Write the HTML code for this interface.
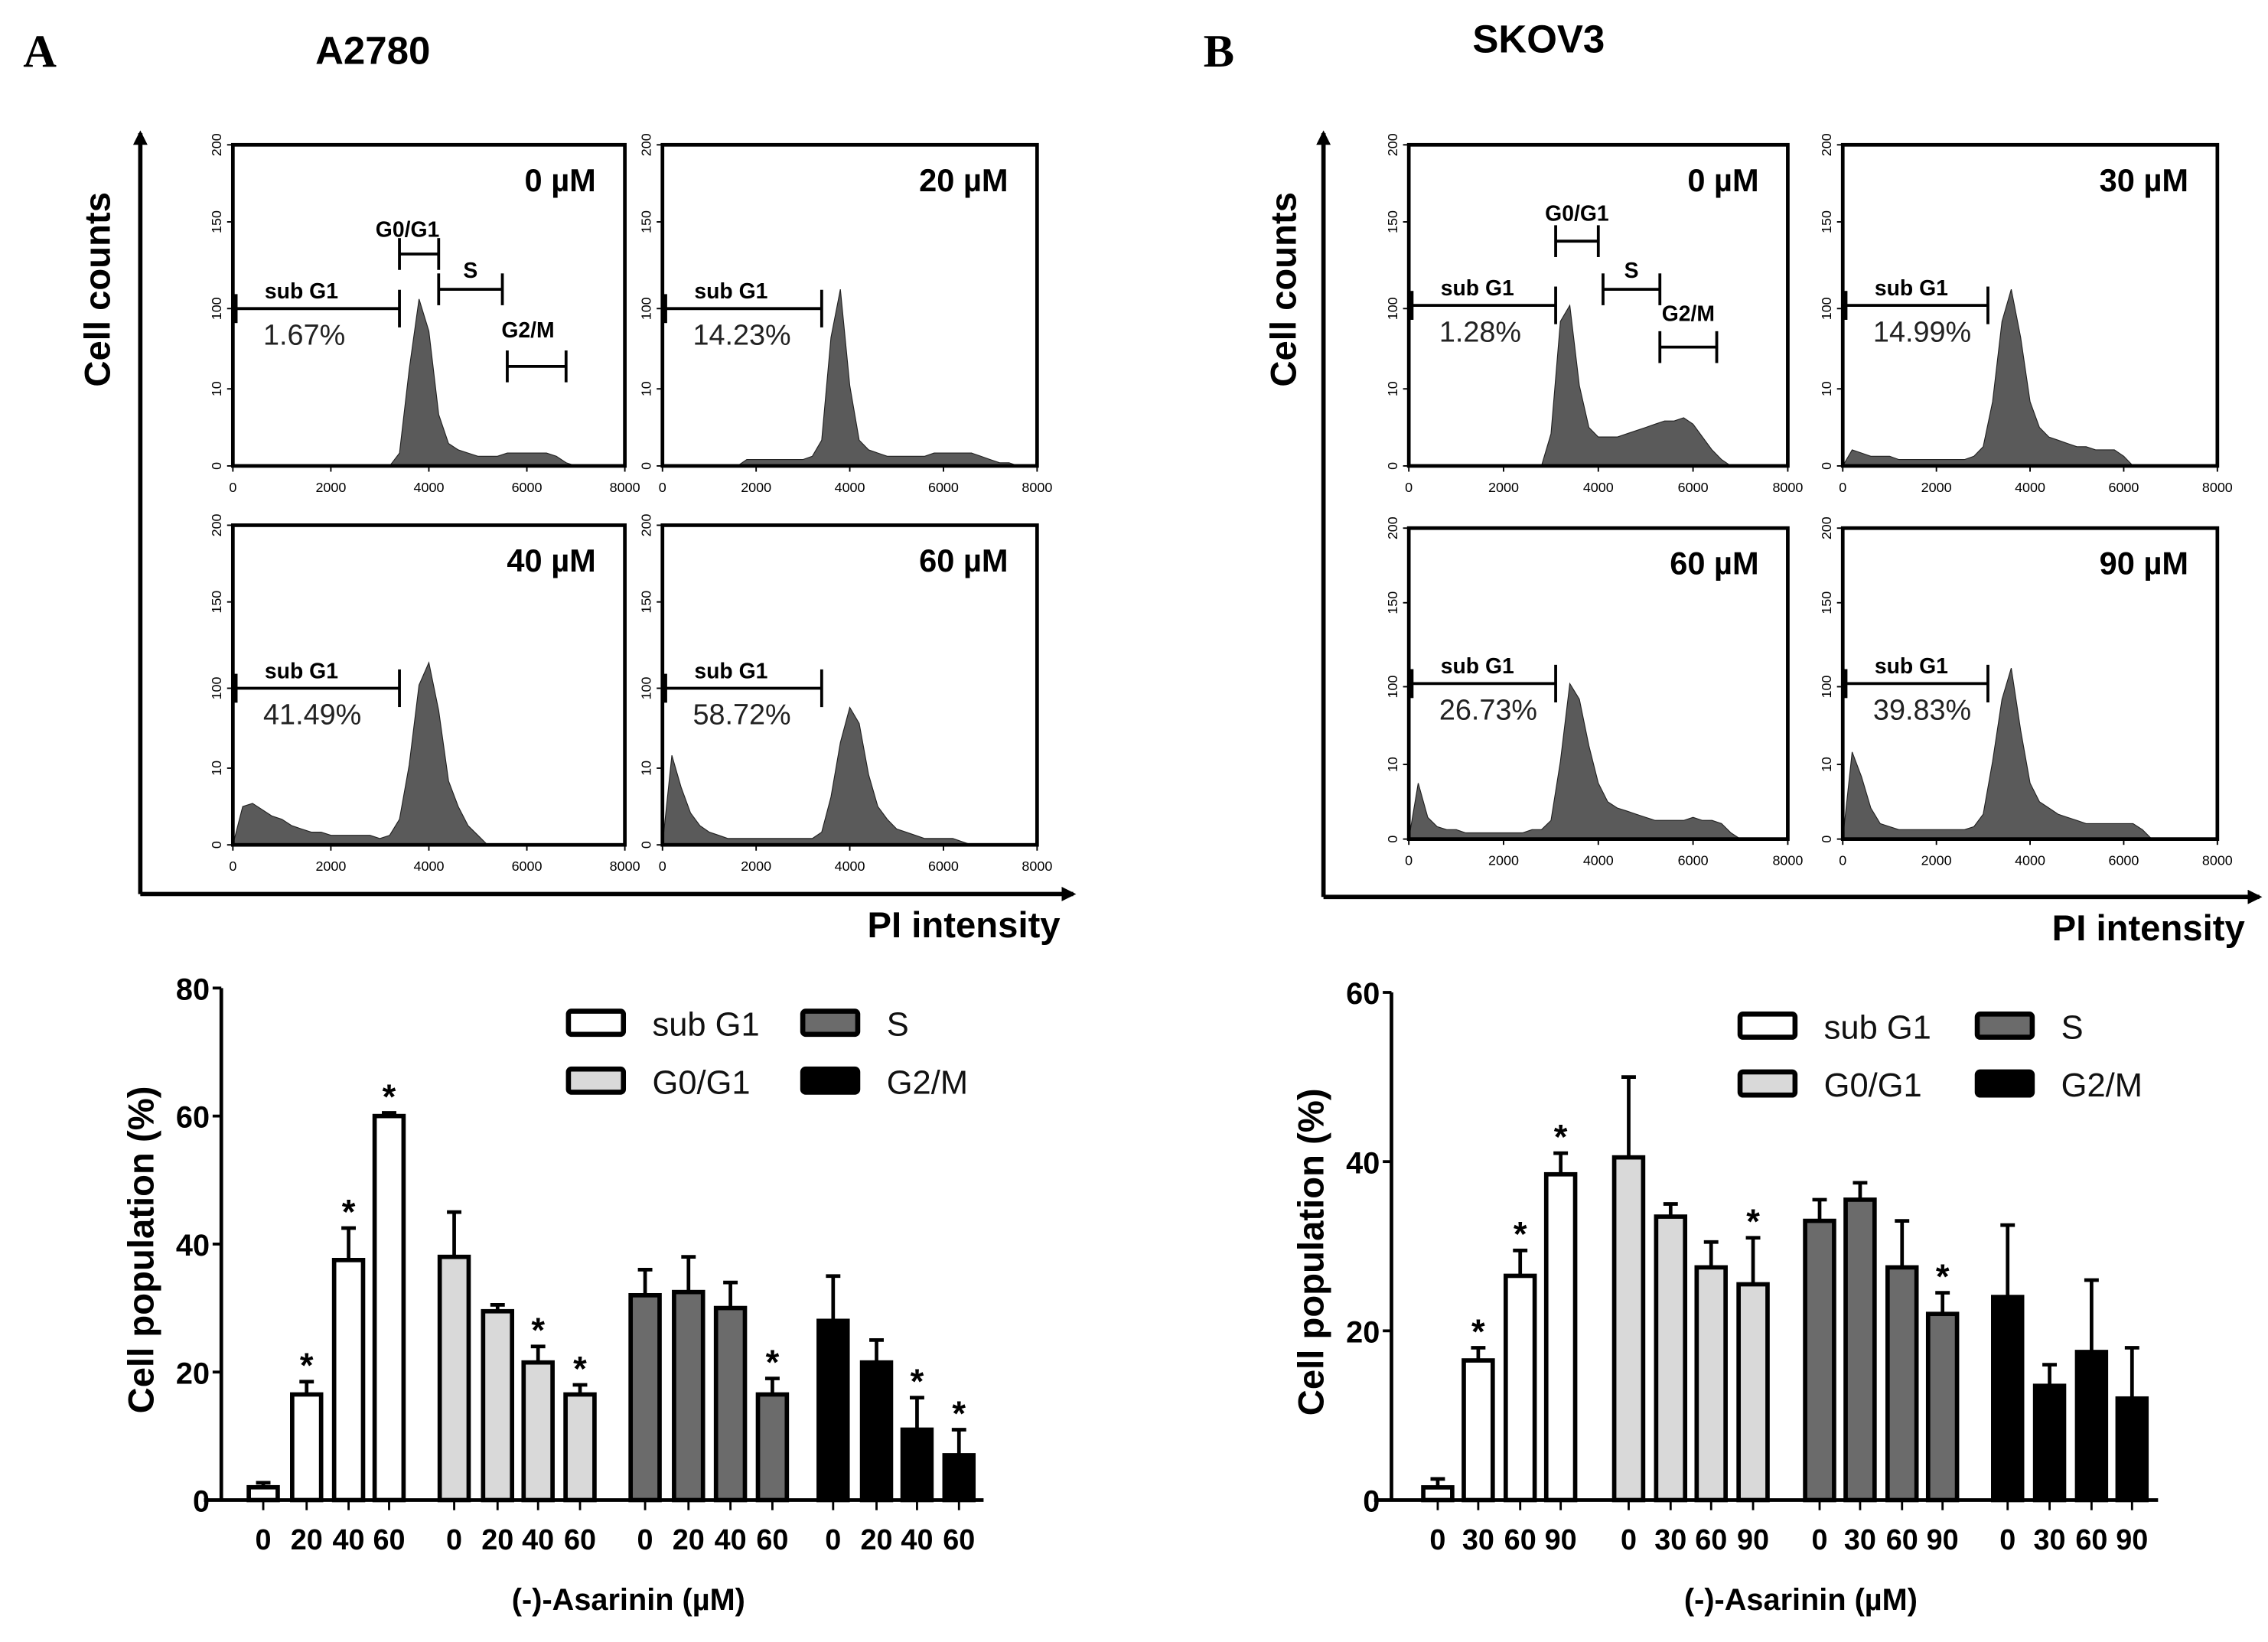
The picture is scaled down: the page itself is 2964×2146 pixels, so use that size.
<!DOCTYPE html>
<html><head><meta charset="utf-8"><style>
html,body{margin:0;padding:0;background:#fff;}
svg{display:block;}
text{font-family:"Liberation Sans",sans-serif;}
</style></head><body>
<svg id="fig" width="2964" height="2146" viewBox="0 0 1568 1135" xmlns="http://www.w3.org/2000/svg">
<defs><marker id="arr" markerWidth="10" markerHeight="10" refX="8" refY="5" orient="auto" markerUnits="userSpaceOnUse"><path d="M0,0 L10,5 L0,10 z" fill="#000"/></marker></defs>
<text x="16" y="46" style="font-family:'Liberation Serif',serif" font-weight="bold" font-size="32">A</text>
<text x="218" y="44" font-weight="bold" font-size="27">A2780</text>
<text x="832" y="46" style="font-family:'Liberation Serif',serif" font-weight="bold" font-size="32">B</text>
<text x="1018" y="36" font-weight="bold" font-size="27">SKOV3</text>
<g id="g"></g>
</svg>
<script>
// ---- histogram data (bins of 200 from 0 to 8000; values = % of panel height) ----
const histA0=[0,0,0,0,0,0,0,0,0,0,0,0,0,0,0,0,0,4,30,52,42,16,7,5,4,3,3,3,4,4,4,4,4,3,1,0,0,0,0,0,0];
const histA20=[0,0,0,0,0,0,0,0,0,2,2,2,2,2,2,2,3,8,40,55,25,8,5,4,3,3,3,3,3,4,4,4,4,4,3,2,1,1,0,0,0];
const histA40=[0,12,13,11,9,8,6,5,4,4,3,3,3,3,3,2,3,8,25,50,57,42,20,12,6,3,0,0,0,0,0,0,0,0,0,0,0,0,0,0,0];
const histA60=[0,28,18,10,6,4,3,2,2,2,2,2,2,2,2,2,2,4,15,32,43,38,22,12,8,5,4,3,2,2,2,2,1,0,0,0,0,0,0,0,0];
const histB0=[0,0,0,0,0,0,0,0,0,0,0,0,0,0,0,10,45,50,25,12,9,9,9,10,11,12,13,14,14,15,13,9,5,2,0,0,0,0,0,0,0];
const histB30=[0,5,4,3,3,3,2,2,2,2,2,2,2,2,3,6,20,45,55,40,20,12,9,8,7,6,6,5,5,5,3,0,0,0,0,0,0,0,0,0,0];
const histB60=[0,18,7,4,3,3,2,2,2,2,2,2,2,3,3,6,25,50,45,30,18,12,10,9,8,7,6,6,6,6,7,6,6,5,2,0,0,0,0,0,0];
const histB90=[0,28,20,10,5,4,3,3,3,3,3,3,3,3,4,8,25,45,55,35,18,12,10,8,7,6,5,5,5,5,5,5,3,0,0,0,0,0,0,0,0];
const histXTicks=["0","2000","4000","6000","8000"];
const histYTicks=["0","10","100","150","200"];
// ---- bar chart data ----
const dosesA=["0","20","40","60"];
const dosesB=["0","30","60","90"];
const phases=["sub G1","G0/G1","S","G2/M"];
const yTicksA=[0,20,40,60,80];
const yTicksB=[0,20,40,60];
const subG1A=[2,16.5,37.5,60], subG1AErr=[0.7,2,5,0.5];
const g0g1A=[38,29.5,21.5,16.5], g0g1AErr=[7,1,2.5,1.5];
const sA=[32,32.5,30,16.5], sAErr=[4,5.5,4,2.5];
const g2mA=[28,21.5,11,7], g2mAErr=[7,3.5,5,4];
const sigA=[[0,1,1,1],[0,0,1,1],[0,0,0,1],[0,0,1,1]];
const subG1B=[1.5,16.5,26.5,38.5], subG1BErr=[1,1.5,3,2.5];
const g0g1B=[40.5,33.5,27.5,25.5], g0g1BErr=[9.5,1.5,3,5.5];
const sB=[33,35.5,27.5,22], sBErr=[2.5,2,5.5,2.5];
const g2mB=[24,13.5,17.5,12], g2mBErr=[8.5,2.5,8.5,6];
const sigB=[[0,1,1,1],[0,0,0,1],[0,0,0,1],[0,0,0,0]];

const NS="http://www.w3.org/2000/svg";
const G=document.getElementById('g');
function el(tag,attrs,parent,txt){const e=document.createElementNS(NS,tag);for(const k in attrs)e.setAttribute(k,attrs[k]);if(txt!==undefined)e.textContent=txt;(parent||G).appendChild(e);return e;}

function bigAxes(x0,y0,x1,ytop,lblX,pix,piy,key){
  const a=el('line',{x1:x0,y1:y0,x2:x0,y2:ytop,stroke:'#000','stroke-width':3,'marker-end':'url(#arr)'});
  
  
  const b=el('line',{x1:x0,y1:y0,x2:x1,y2:y0,stroke:'#000','stroke-width':3,'marker-end':'url(#arr)'});
  
  
  const t=el('text',{x:0,y:0,transform:`translate(${lblX},200) rotate(-90)`,'text-anchor':'middle','font-weight':'bold','font-size':25},G,'Cell counts');
  
  
  const p=el('text',{x:pix,y:piy,'text-anchor':'end','font-weight':'bold','font-size':25},G,'PI intensity');
  
  
}
bigAxes(97,618,742,92,76,733,648,'a');
bigAxes(915,620,1562,92,896,1552,650,'b');

const yFrac=[1,0.76,0.51,0.24,0];
function histo(L,T,R,B,data,title,pct,key,opts){
  const g=el('g',{});
  
  
  const W=R-L,H=B-T;
  const xs=v=>L+v/8000*W, ys=v=>B-v/100*H;
  let d=`M${xs(0)},${B}`;
  data.forEach((v,i)=>{d+=` L${xs(i*200).toFixed(1)},${ys(v).toFixed(1)}`;});
  d+=` L${xs(8000)},${B} Z`;
  const p=el('path',{d:d,fill:'#5a5a5a',stroke:'#222','stroke-width':0.6},g);
  
  
  const fr=el('rect',{x:L,y:T,width:W,height:H,fill:'none',stroke:'#000','stroke-width':2.5},g);
  
  
  histXTicks.forEach((t,i)=>{const x=L+i*W/4;el('line',{x1:x,y1:B,x2:x,y2:B+4,stroke:'#000'},g);
    const tx=el('text',{x:x,y:B+18,'text-anchor':'middle','font-size':9.5},g,t);
    
    });
  histYTicks.forEach((t,i)=>{const y=T+yFrac[i]*H;el('line',{x1:L-4,y1:y,x2:L,y2:y,stroke:'#000'},g);
    const tx=el('text',{x:0,y:0,transform:`translate(${L-8},${y}) rotate(-90)`,'text-anchor':'middle','font-size':9.5},g,t);
    
    });
  const tt=el('text',{x:R-20,y:T+32,'text-anchor':'end','font-weight':'bold','font-size':22},g,title);
  
  
  const gx=xs(opts.gate), gy=T+opts.gy*H;
  el('line',{x1:L+2,y1:gy,x2:gx,y2:gy,stroke:'#000','stroke-width':2},g);
  el('line',{x1:L+2,y1:gy-10,x2:L+2,y2:gy+10,stroke:'#000','stroke-width':2.5},g);
  el('line',{x1:gx,y1:gy-13,x2:gx,y2:gy+13,stroke:'#000','stroke-width':2},g);
  const sg=el('text',{x:L+22,y:gy-7,'font-weight':'bold','font-size':15},g,'sub G1');
  
  
  const pc=el('text',{x:L+21,y:gy+25,'font-size':20,fill:'#222'},g,pct);
  
  
  if(opts.gates){opts.gates.forEach(q=>{
    const a=xs(q[0]),b=xs(q[1]),y=T+q[2]*H;
    el('line',{x1:a,y1:y,x2:b,y2:y,stroke:'#000','stroke-width':2},g);
    el('line',{x1:a,y1:y-11,x2:a,y2:y+11,stroke:'#000','stroke-width':2},g);
    el('line',{x1:b,y1:y-11,x2:b,y2:y+11,stroke:'#000','stroke-width':2},g);
    const lt=el('text',{x:(a+b)/2+q[4],y:y-q[5],'text-anchor':'middle','font-weight':'bold','font-size':15},g,q[3]);
    
    
  });}
}
histo(161,100,432,322,histA0,'0 µM','1.67%','a-0',{gate:3400,gy:0.51,gates:[[3400,4200,0.34,'G0/G1',-8,12],[4200,5500,0.45,'S',0,8],[5600,6800,0.69,'G2/M',-6,20]]});
histo(458,100,717,322,histA20,'20 µM','14.23%','a-20',{gate:3400,gy:0.51});
histo(161,363,432,584,histA40,'40 µM','41.49%','a-40',{gate:3400,gy:0.51});
histo(458,363,717,584,histA60,'60 µM','58.72%','a-60',{gate:3400,gy:0.51});
histo(974,100,1236,322,histB0,'0 µM','1.28%','b-0',{gate:3100,gy:0.5,gates:[[3100,4000,0.3,'G0/G1',0,14],[4100,5300,0.45,'S',0,8],[5300,6500,0.63,'G2/M',0,18]]});
histo(1274,100,1533,322,histB30,'30 µM','14.99%','b-30',{gate:3100,gy:0.5});
histo(974,365,1236,580,histB60,'60 µM','26.73%','b-60',{gate:3100,gy:0.5});
histo(1274,365,1533,580,histB90,'90 µM','39.83%','b-90',{gate:3100,gy:0.5});

const fills=['#ffffff','#d9d9d9','#6b6b6b','#000000'];
function barChart(key,axX,y0,yTop,yMax,yTicks,xEnd,centers,series,errs,sig,doses,leg){
  const g=el('g',{});
  
  
  const ys=v=>y0-v/yMax*(y0-yTop);
  el('line',{x1:axX,y1:y0+1,x2:axX,y2:yTop,stroke:'#000','stroke-width':2.5},g);
  el('line',{x1:axX-12,y1:y0,x2:xEnd,y2:y0,stroke:'#000','stroke-width':2.5},g);
  yTicks.forEach(t=>{const y=ys(t);el('line',{x1:axX-6,y1:y,x2:axX,y2:y,stroke:'#000','stroke-width':2},g);
    const tx=el('text',{x:axX-8,y:y+8,'text-anchor':'end','font-weight':'bold','font-size':21},g,String(t));
    
    });
  const yl=el('text',{x:0,y:0,transform:`translate(${axX-47},${(y0+yTop)/2+4}) rotate(-90)`,'text-anchor':'middle','font-weight':'bold','font-size':25},g,'Cell population (%)');
  
  
  const bw=20;
  series.forEach((vals,s)=>{vals.forEach((v,i)=>{
    const cx=centers[s][i], top=ys(v), et=ys(v+errs[s][i]);
    el('line',{x1:cx,y1:top,x2:cx,y2:et,stroke:'#000','stroke-width':2.5},g);
    el('line',{x1:cx-5,y1:et,x2:cx+5,y2:et,stroke:'#000','stroke-width':2.5},g);
    const r=el('rect',{x:cx-bw/2,y:top,width:bw,height:y0-top,fill:fills[s],stroke:'#000','stroke-width':3},g);
    
    
    el('line',{x1:cx,y1:y0,x2:cx,y2:y0+7,stroke:'#000','stroke-width':1.5},g);
    const tl=el('text',{x:cx,y:y0+34,'text-anchor':'middle','font-weight':'bold','font-size':20},g,doses[i]);
    
    
    if(sig[s][i]){const st=el('text',{x:cx,y:et-3,'text-anchor':'middle','font-weight':'bold','font-size':24},g,'*');
      
      }
  });});
  const xl=el('text',{x:(axX+xEnd)/2+18,y:y0+76,'text-anchor':'middle','font-weight':'bold','font-size':21},g,'(-)-Asarinin (µM)');
  
  
  phases.forEach((p,s)=>{const col=s===0||s===1?0:1,row=s===0||s===2?0:1;
    const bx=leg[0]+col*leg[2], by=leg[1]+row*40;
    const lb=el('rect',{x:bx,y:by,width:38,height:16,rx:2,fill:fills[s],stroke:'#000','stroke-width':3.5},g);
    
    
    const lt=el('text',{x:bx+58,y:by+17,'font-size':23,fill:'#111'},g,p);
    
    });
}
const cA=[[182,212,241,269],[314,344,372,401],[446,476,505,534],[576,606,634,663]];
const cB=[[994,1022,1051,1079],[1126,1155,1183,1212],[1258,1286,1315,1343],[1388,1417,1446,1474]];
barChart('a',153,1037,683,80,yTicksA,680,cA,[subG1A,g0g1A,sA,g2mA],[subG1AErr,g0g1AErr,sAErr,g2mAErr],sigA,dosesA,[393,699,162]);
barChart('b',962,1037,686,60,yTicksB,1492,cB,[subG1B,g0g1B,sB,g2mB],[subG1BErr,g0g1BErr,sBErr,g2mBErr],sigB,dosesB,[1203,701,164]);
</script>
</body></html>
